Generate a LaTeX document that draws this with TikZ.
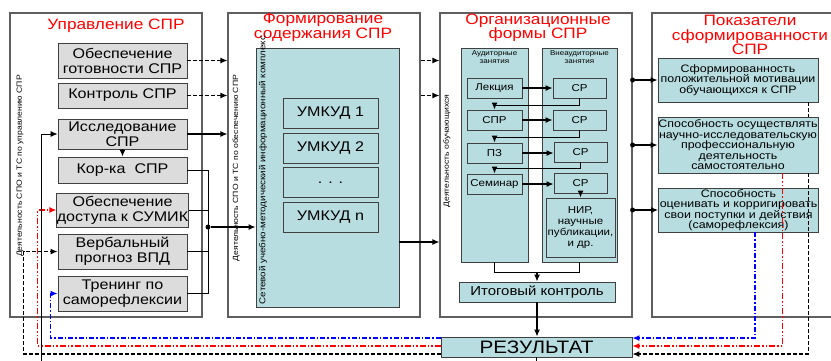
\documentclass[tikz,border=0pt]{standalone}
\usepackage{fontspec}
\setmainfont{Liberation Sans}[FakeStretch=1.15]
\usetikzlibrary{arrows.meta}
\definecolor{boxgray}{RGB}{220,220,220}
\definecolor{boxteal}{RGB}{183,221,224}
\definecolor{framegray}{RGB}{95,95,95}

\begin{document}
\begin{tikzpicture}[x=1pt,y=-1pt,
    col/.style={draw=framegray,line width=1.2pt,minimum width=192pt,minimum height=304pt,inner sep=0pt},
    gbox/.style={draw=black!75,fill=boxgray,line width=0.9pt,inner sep=0pt,align=center,
      minimum width=129pt,font=\fontsize{14}{15}\selectfont},
    tbox/.style={draw=black!75,fill=boxteal,line width=0.9pt,inner sep=0pt,align=center},
    ubox/.style={tbox,minimum width=95pt,minimum height=30pt,font=\fontsize{14}{15}\selectfont},
    sbox/.style={tbox,minimum height=20pt,font=\fontsize{10}{11}\selectfont},
    pbox/.style={tbox,minimum width=160pt,font=\fontsize{10.8}{10.5}\selectfont},
    ttl/.style={text=red,align=center,inner sep=0pt,font=\fontsize{15}{14.5}\selectfont},
    vtxt/.style={rotate=90,inner sep=0pt,font=\fontsize{7.5}{7.5}\selectfont},
    hdr/.style={align=center,inner sep=0pt,font=\fontsize{7}{8}\selectfont},
    dot/.style={circle,fill=black,inner sep=0pt,minimum size=5pt},
    arr/.style={-{Latex[length=7pt,width=6pt]},line width=1.2pt},
    ln/.style={line width=0.8pt},
    bdash/.style={line width=1.2pt,dash pattern=on 4pt off 2pt},
    rdash/.style={red,line width=1.3pt,dash pattern=on 6pt off 2pt on 1.5pt off 2pt on 1.5pt off 2pt},
    bldash/.style={blue,line width=1.3pt,dash pattern=on 5pt off 2pt on 1.5pt off 2pt}]
  \useasboundingbox (0,0) rectangle (831,360);
  \fill[white] (0,0) rectangle (831,360);
  \clip (0,0) rectangle (831,360);

  % columns
  \node[col] (col1) at (106,165) {};
  \node[col] (col2) at (324,165) {};
  \node[col] (col3) at (536,165) {};
  \node[col,minimum width=182pt] (col4) at (743,165) {};

  \node[ttl] (t1) at (116,26) {Управление СПР};
  \node[ttl] (t2) at (323,27.5) {Формирование\\содержания СПР};
  \node[ttl] (t3) at (538,28) {Организационные\\формы СПР};
  \node[ttl] (t4) at (750,35) {Показатели\\сформированности\\СПР};

  \node[vtxt] (v1) at (20,166) {Деятельность СПО и ТС по управлению СПР};
  \node[vtxt] (v2) at (236,168) {Деятельность СПО и ТС по обеспечению СПР};
  \node[vtxt] (v3) at (447,151) {Деятельность обучающихся};

  % column 1
  \node[gbox,minimum height=35pt] (gotov) at (122.5,60.5) {Обеспечение\\готовности СПР};
  \node[gbox,minimum height=25pt] (kontr) at (122.5,95.5) {Контроль СПР};
  \node[gbox,minimum height=30pt] (issl) at (122.5,134) {Исследование\\СПР};
  \node[gbox,minimum height=26pt] (korka) at (122.5,170) {Кор-ка\ \ СПР};
  \node[gbox,minimum height=34pt] (dostup) at (122.5,210) {Обеспечение\\доступа к СУМИК};
  \node[gbox,minimum height=35pt] (verb) at (122.5,251.5) {Вербальный\\прогноз ВПД};
  \node[gbox,minimum height=35pt] (trening) at (122.5,293.5) {Тренинг по\\саморефлексии};

  % column 2
  \node[tbox,minimum width=143pt,minimum height=259pt] (kompl) at (327.5,177.5) {};
  \node[vtxt,font=\fontsize{8.5}{8.5}\selectfont] (komplt) at (263,170) {Сетевой учебно-методический информационный комплекс};
  \node[ubox] (umk1) at (330.5,113) {УМКУД 1};
  \node[ubox] (umk2) at (330.5,148) {УМКУД 2};
  \node[ubox] (umkd) at (330.5,182.5) {. . .};
  \node[ubox] (umkn) at (330.5,217) {УМКУД n};

  % column 3
  \node[tbox,minimum width=67pt,minimum height=214pt] (aud) at (494.5,155) {};
  \node[tbox,minimum width=75pt,minimum height=214pt] (vneaud) at (579.5,155) {};
  \node[hdr] (audt) at (494.5,57) {Аудиторные\\занятия};
  \node[hdr] (vneaudt) at (579.5,57) {Внеаудиторные\\занятия};
  \node[sbox,minimum width=55pt] (lekc) at (494.5,88) {Лекция};
  \node[sbox,minimum width=55pt] (sprf) at (494.5,120) {СПР};
  \node[sbox,minimum width=55pt] (pz) at (494.5,153) {ПЗ};
  \node[sbox,minimum width=55pt] (semin) at (494.5,184) {Семинар};
  \node[sbox,minimum width=53pt] (sr1) at (579.5,88) {СР};
  \node[sbox,minimum width=53pt] (sr2) at (579.5,120) {СР};
  \node[sbox,minimum width=53pt] (sr3) at (580.5,152) {СР};
  \node[sbox,minimum width=53pt] (sr4) at (580.5,183) {СР};
  \node[sbox,minimum width=69pt,minimum height=59pt] (nir) at (580.5,227.5) {НИР,\\научные\\публикации,\\и др.};
  \node[tbox,minimum width=156pt,minimum height=20pt,font=\fontsize{13}{14}\selectfont] (itog) at (537,292) {Итоговый контроль};
  \node[tbox,minimum width=191pt,minimum height=20pt,font=\fontsize{18}{18}\selectfont] (result) at (536.5,347) {РЕЗУЛЬТАТ};

  % column 4
  \node[pbox,minimum height=44pt] (sform) at (738,80) {Сформированность\\положительной мотивации\\обучающихся к СПР};
  \node[pbox,minimum height=56pt] (osush) at (738,145) {Способность осуществлять\\научно-исследовательскую\\профессиональную\\деятельность\\самостоятельно};
  \node[pbox,minimum height=44pt] (ocen) at (738.5,210) {Способность\\оценивать и корригировать\\свои поступки и действия\\(саморефлексия)};

  % links of column 1
  \draw[arr,bdash] (gotov.east) -- (gotov.east -| col2.west);
  \draw[arr,bdash] (gotov.east -| col2.east) -- (gotov.east -| col3.west);
  \draw[arr,bdash] (kontr.east) -- (kontr.east -| col2.west);
  \draw[arr,bdash] (kontr.east -| col2.east) -- (kontr.east -| col3.west);
  \draw[arr] (issl.east) -- (issl.east -| col2.west);
  \draw[arr] (issl) -- (korka);
  \coordinate (bus) at (208,227);
  \draw[ln] (korka.east) -| (bus);
  \draw[ln] (trening.east) -| (bus);
  \draw[ln] (dostup.east) -- (dostup.east -| bus);
  \draw[ln] (verb.east) -- (verb.east -| bus);
  \node[dot] (busdot) at (bus) {};
  \draw[arr] (busdot) -- (busdot -| kompl.west);
  \draw[arr] ([yshift=-64.5pt]kompl.east) -- ([yshift=-64.5pt]kompl.east -| col3.west);

  % links of column 3
  \draw[arr] (lekc) -- (sr1);
  \draw[arr] (sprf) -- (sr2);
  \draw[arr] (pz.east) -- (pz.east -| sr3.west);
  \draw[arr] (semin.east) -- (semin.east -| sr4.west);
  \draw[arr] (sr1.south) -- ++(0,7) -| (sprf.north);
  \draw[arr] (sr2.south) -- ++(0,7) -| (pz.north);
  \draw[arr] (sr3.south) -- ++(0,6) -| (semin.north);
  \draw[arr] (sr4) -- (nir);
  \coordinate (join) at ([yshift=-10pt]aud.south);
  \draw[ln] (aud.south) -- (join) -| (vneaud.south);
  \draw[arr] (join -| itog.north) -- (itog.north);
  \draw[arr] (itog.south) -- (itog.south |- result.north);

  % column 3 to column 4
  \node[dot] (d1) at (sform.west -| col3.east) {};
  \node[dot] (d2) at (osush.west -| col3.east) {};
  \node[dot] (d3) at (ocen.west -| col3.east) {};
  \draw[arr] (d1) -- (sform.west);
  \draw[arr] (d2) -- (osush.west);
  \draw[arr] (d3) -- (ocen.west);

  % feedback
  \draw[bdash] ([xshift=-10pt]sform.south east) -- ([xshift=-10pt]osush.north east);
  \draw[bdash,arr] ([xshift=-10pt]osush.south east) |- ([yshift=-7pt]result.east);
  \draw[bdash,arr] ([yshift=-7pt]result.west) -- ++(-417,0) |- (verb.west);
  \draw[rdash,arr] ([xshift=-36pt]osush.south east) |- ([yshift=1pt]result.east);
  \draw[rdash,arr] ([yshift=1pt]result.west) -- ++(-403,0) |- (dostup.west);
  \draw[bldash,arr] ([xshift=-64pt]ocen.south east) |- ([yshift=9pt]result.east);
  \draw[bldash,arr] ([yshift=9pt]result.west) -- ++(-390,0) |- (trening.west);
  \draw[arr,line width=0.8pt] (result.south) -- ++(0,14) -| ([xshift=-16pt]issl.west) -- (issl.west);
\end{tikzpicture}
\end{document}
